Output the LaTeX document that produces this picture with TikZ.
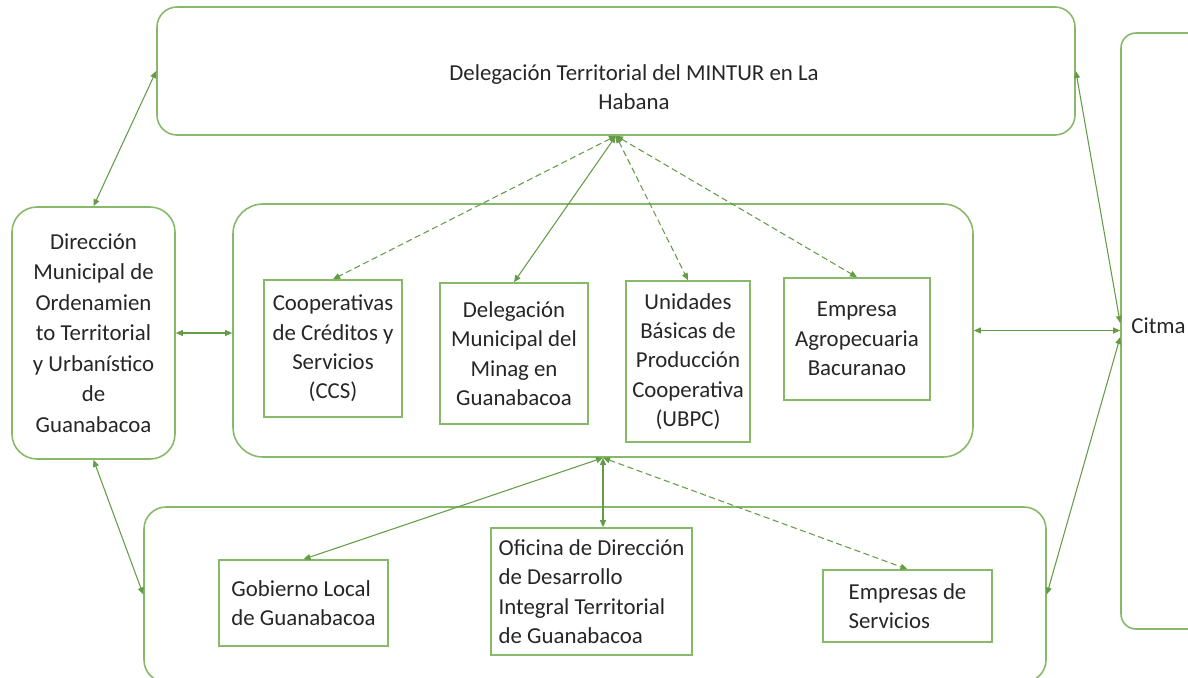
\documentclass[tikz,border=0pt]{standalone}
\usepackage{fontspec}
\setmainfont{Carlito}
\usetikzlibrary{arrows.meta}

\definecolor{vertcadre}{RGB}{135,185,105}
\definecolor{vertfleche}{RGB}{100,155,70}

\def \px {0.02cm}

\begin{document}
\begin{tikzpicture}[x=0.02cm, y=-0.02cm,
    cadre/.style={draw=vertcadre, line width=0.9pt, inner sep=0pt, text=black!85,
      font=\fontsize{13}{16.7}\selectfont},
    texte/.style={inner sep=0pt, text=black!85, font=\fontsize{13}{16.7}\selectfont},
    fleche/.style={draw=vertfleche, line width=0.6pt, <->},
    pointille/.style={dash pattern=on 3.5pt off 2pt},
    >={Triangle[length=4pt,width=3.4pt]}]
      \useasboundingbox (0,0) rectangle (1188,677);
      %cadres
      \node[cadre, rounded corners=0.4cm, minimum width=918*\px, minimum height=128*\px] (mintur) at (616,71) {};
      \node[texte, align=center] (minturtxt) at (634,87) {Delegación Territorial del MINTUR en La\\Habana};
      \node[cadre, rounded corners=0.5cm, minimum width=163*\px, minimum height=252*\px, align=center,
        font=\fontsize{13}{17.4}\selectfont] (dmot) at (93.5,333)
        {Dirección\\Municipal de\\Ordenamien\\to Territorial\\y Urbanístico\\de\\Guanabacoa};
      \node[cadre, rounded corners=0.6cm, minimum width=740*\px, minimum height=253*\px] (minag) at (603,330.5) {};
      \node[cadre, rounded corners=0.44cm, minimum width=902*\px, minimum height=175*\px] (bas) at (595,594.5) {};
      \node[cadre, rounded corners=0.3cm, minimum width=94*\px, minimum height=596*\px] (citma) at (1168,331) {};
      \node[texte, anchor=west] (citmatxt) at (1131,326) {Citma};
      %organismos
      \node[cadre, minimum width=138*\px, minimum height=137*\px, align=center] (ccs) at (333,348.5)
        {Cooperativas\\de Créditos y\\Servicios\\(CCS)};
      \node[cadre, minimum width=148*\px, minimum height=141*\px, align=center] (delmun) at (514,353.5)
        {Delegación\\Municipal del\\Minag en\\Guanabacoa};
      \node[cadre, minimum width=124*\px, minimum height=161*\px, align=center] (ubpc) at (688,361.5)
        {Unidades\\Básicas de\\Producción\\Cooperativa\\(UBPC)};
      \node[cadre, minimum width=146*\px, minimum height=122*\px, align=center] (empagro) at (857,339)
        {Empresa\\Agropecuaria\\Bacuranao};
      \node[cadre, minimum width=169*\px, minimum height=86*\px, align=left] (gobierno) at (303.5,603)
        {Gobierno Local\\de Guanabacoa};
      \node[cadre, minimum width=201*\px, minimum height=127*\px, align=left] (oficina) at (591.5,591.5)
        {Oficina de Dirección\\de Desarrollo\\Integral Territorial\\de Guanabacoa};
      \node[cadre, minimum width=169*\px, minimum height=72*\px, align=left] (servicios) at (907.5,606)
        {Empresas de\\Servicios};
      %flèches
      \draw[fleche] (dmot.north) -- (mintur.west);
      \draw[fleche] (dmot.south) -- (bas.west);
      \draw[fleche] (dmot.east) -- (dmot.east -| minag.west);
      \draw[fleche, pointille] (mintur.south) -- (ccs.north);
      \draw[fleche] (mintur.south) -- (delmun.north);
      \draw[fleche, pointille] (mintur.south) -- (ubpc.north);
      \draw[fleche, pointille] (mintur.south) -- (empagro.north);
      \draw[fleche] (mintur.east) -- ([yshift=0.16cm]citma.west);
      \draw[fleche] (minag.east) -- (minag.east -| citma.west);
      \draw[fleche] (bas.east) -- ([yshift=-0.12cm]citma.west);
      \draw[fleche] (minag.south) -- (gobierno.north);
      \draw[fleche] (minag.south) -- (minag.south |- oficina.north);
      \draw[fleche, pointille] (minag.south) -- (servicios.north);
    \end{tikzpicture}
\end{document}
